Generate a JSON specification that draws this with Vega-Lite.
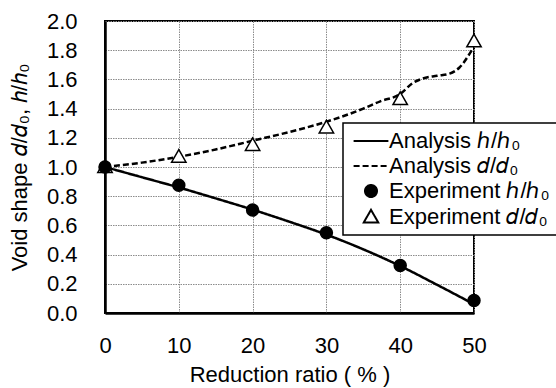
{
  "$schema": "https://vega.github.io/schema/vega-lite/v6.json",
  "width": 369,
  "height": 292,
  "autosize": {"type": "none"},
  "padding": {"left": 105, "top": 21, "right": 82, "bottom": 75},
  "background": "white",
  "config": {
    "font": "Liberation Sans",
    "view": {"stroke": "black", "strokeWidth": 2},
    "axis": {
      "labelFont": "Liberation Sans",
      "titleFont": "Liberation Sans",
      "labelFontSize": 22,
      "titleFontSize": 22,
      "titleFontWeight": "normal",
      "labelColor": "black",
      "titleColor": "black",
      "ticks": false,
      "tickSize": 0,
      "labelFlush": false,
      "labelOverlap": false,
      "domainColor": "black",
      "domainWidth": 2.5,
      "gridColor": "#8c8c8c",
      "gridDash": [1.5, 1],
      "gridWidth": 1
    },
    "legend": {
      "orient": "none",
      "legendX": 238,
      "legendY": 102,
      "labelFontSize": 22,
      "labelFont": "Liberation Sans",
      "labelColor": "black",
      "strokeColor": "black",
      "fillColor": "white",
      "padding": 7,
      "rowPadding": 3,
      "symbolOffset": 10,
      "labelOffset": 7,
      "symbolSize": 144,
      "symbolStrokeColor": "black",
      "symbolStrokeWidth": 2,
      "labelLimit": 300,
      "symbolLimit": 0
    }
  },
  "data": {
    "values": [
      {"series": "Analysis ℎ/ℎ₀", "ratio": 0, "value": 1.0},
      {"series": "Analysis ℎ/ℎ₀", "ratio": 5, "value": 0.93},
      {"series": "Analysis ℎ/ℎ₀", "ratio": 10, "value": 0.86},
      {"series": "Analysis ℎ/ℎ₀", "ratio": 15, "value": 0.785},
      {"series": "Analysis ℎ/ℎ₀", "ratio": 20, "value": 0.708},
      {"series": "Analysis ℎ/ℎ₀", "ratio": 25, "value": 0.625},
      {"series": "Analysis ℎ/ℎ₀", "ratio": 30, "value": 0.537},
      {"series": "Analysis ℎ/ℎ₀", "ratio": 35, "value": 0.436},
      {"series": "Analysis ℎ/ℎ₀", "ratio": 40, "value": 0.322},
      {"series": "Analysis ℎ/ℎ₀", "ratio": 45, "value": 0.193},
      {"series": "Analysis ℎ/ℎ₀", "ratio": 50, "value": 0.06},
      {"series": "Analysis 𝑑/𝑑₀", "ratio": 0, "value": 1.0},
      {"series": "Analysis 𝑑/𝑑₀", "ratio": 5, "value": 1.03},
      {"series": "Analysis 𝑑/𝑑₀", "ratio": 10, "value": 1.07},
      {"series": "Analysis 𝑑/𝑑₀", "ratio": 15, "value": 1.12},
      {"series": "Analysis 𝑑/𝑑₀", "ratio": 20, "value": 1.18},
      {"series": "Analysis 𝑑/𝑑₀", "ratio": 25, "value": 1.24},
      {"series": "Analysis 𝑑/𝑑₀", "ratio": 30, "value": 1.31},
      {"series": "Analysis 𝑑/𝑑₀", "ratio": 35, "value": 1.4},
      {"series": "Analysis 𝑑/𝑑₀", "ratio": 37.3, "value": 1.45},
      {"series": "Analysis 𝑑/𝑑₀", "ratio": 40, "value": 1.5},
      {"series": "Analysis 𝑑/𝑑₀", "ratio": 41.7, "value": 1.575},
      {"series": "Analysis 𝑑/𝑑₀", "ratio": 43, "value": 1.605},
      {"series": "Analysis 𝑑/𝑑₀", "ratio": 45, "value": 1.625},
      {"series": "Analysis 𝑑/𝑑₀", "ratio": 46.7, "value": 1.64},
      {"series": "Analysis 𝑑/𝑑₀", "ratio": 48, "value": 1.68},
      {"series": "Analysis 𝑑/𝑑₀", "ratio": 49.7, "value": 1.8},
      {"series": "Experiment 𝑑/𝑑₀", "ratio": 0, "value": 1.0},
      {"series": "Experiment 𝑑/𝑑₀", "ratio": 10, "value": 1.07},
      {"series": "Experiment 𝑑/𝑑₀", "ratio": 20, "value": 1.15},
      {"series": "Experiment 𝑑/𝑑₀", "ratio": 30, "value": 1.27},
      {"series": "Experiment 𝑑/𝑑₀", "ratio": 40, "value": 1.465},
      {"series": "Experiment 𝑑/𝑑₀", "ratio": 50, "value": 1.86},
      {"series": "Experiment ℎ/ℎ₀", "ratio": 0, "value": 1.0},
      {"series": "Experiment ℎ/ℎ₀", "ratio": 10, "value": 0.875},
      {"series": "Experiment ℎ/ℎ₀", "ratio": 20, "value": 0.705},
      {"series": "Experiment ℎ/ℎ₀", "ratio": 30, "value": 0.55},
      {"series": "Experiment ℎ/ℎ₀", "ratio": 40, "value": 0.325},
      {"series": "Experiment ℎ/ℎ₀", "ratio": 50, "value": 0.085}
    ]
  },
  "encoding": {
    "x": {
      "field": "ratio",
      "type": "quantitative",
      "scale": {"domain": [0, 50], "nice": false},
      "axis": {"values": [0, 10, 20, 30, 40, 50], "title": "Reduction ratio ( % )", "labelPadding": 22, "titlePadding": 8, "grid": true}
    },
    "y": {
      "field": "value",
      "type": "quantitative",
      "scale": {"domain": [0, 2], "nice": false},
      "axis": {"values": [0, 0.2, 0.4, 0.6, 0.8, 1.0, 1.2, 1.4, 1.6, 1.8, 2.0], "format": ".1f", "title": "Void shape 𝑑/𝑑₀, ℎ/ℎ₀", "labelPadding": 28, "titlePadding": 15, "grid": true}
    }
  },
  "layer": [
    {
      "transform": [{"filter": "indexof(datum.series, 'Analysis') == 0"}],
      "mark": {"type": "line", "color": "black", "strokeWidth": 2.5, "interpolate": "monotone"},
      "encoding": {
        "strokeDash": {
          "field": "series",
          "type": "nominal",
          "sort": null,
          "scale": {"domain": ["Analysis ℎ/ℎ₀", "Analysis 𝑑/𝑑₀", "Experiment ℎ/ℎ₀", "Experiment 𝑑/𝑑₀"], "range": [[1, 0], [6, 3], [1, 0], [1, 0]]},
          "legend": {"title": null, "encode": {"symbols": {"update": {"stroke": {"value": "black"}, "strokeWidth": {"value": 2}}}, "legend": {"update": {"strokeWidth": {"value": 1.5}}}}}
        }
      }
    },
    {
      "transform": [{"filter": "indexof(datum.series, 'Experiment') == 0"}],
      "mark": {"type": "point", "filled": true, "stroke": "black", "strokeWidth": 1.5, "size": 144, "opacity": 1},
      "encoding": {
        "shape": {
          "field": "series",
          "type": "nominal",
          "sort": null,
          "scale": {"domain": ["Analysis ℎ/ℎ₀", "Analysis 𝑑/𝑑₀", "Experiment ℎ/ℎ₀", "Experiment 𝑑/𝑑₀"], "range": ["M-2.9,0L2.9,0", "M-2.9,0L2.9,0", "circle", "M0,-1.2L-1.2,0.9L1.2,0.9Z"]},
          "legend": {"title": null, "encode": {"symbols": {"update": {"stroke": {"value": "black"}, "strokeWidth": {"value": 2}}}, "legend": {"update": {"strokeWidth": {"value": 1.5}}}}}
        },
        "fill": {
          "field": "series",
          "type": "nominal",
          "sort": null,
          "scale": {"domain": ["Analysis ℎ/ℎ₀", "Analysis 𝑑/𝑑₀", "Experiment ℎ/ℎ₀", "Experiment 𝑑/𝑑₀"], "range": ["transparent", "transparent", "black", "white"]},
          "legend": {"title": null, "encode": {"symbols": {"update": {"stroke": {"value": "black"}, "strokeWidth": {"value": 2}}}, "legend": {"update": {"strokeWidth": {"value": 1.5}}}}}
        }
      }
    }
  ]
}
